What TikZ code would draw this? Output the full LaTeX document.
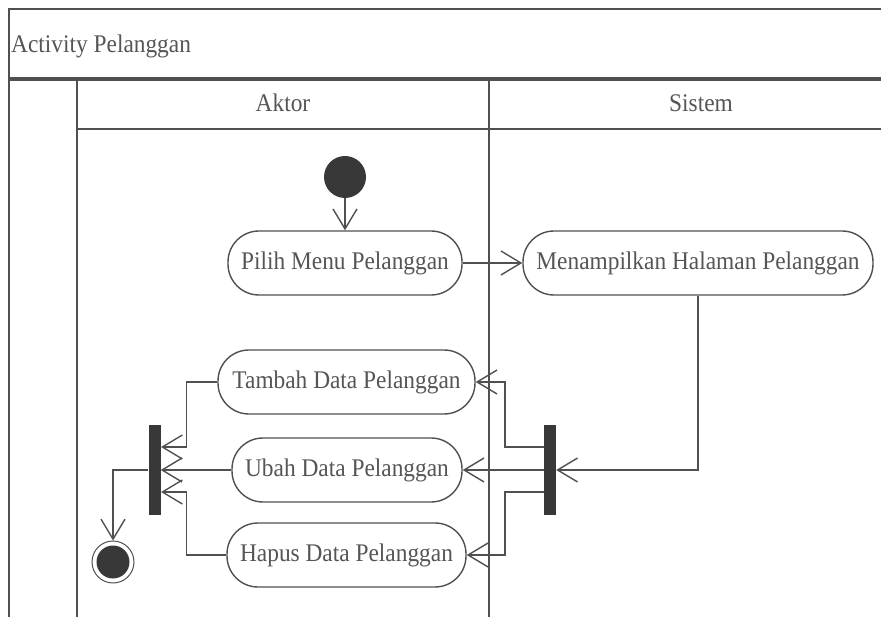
\documentclass[tikz,border=0pt]{standalone}
\usepackage{fontspec}
\setmainfont{Liberation Serif}[FakeStretch=0.92]
\usetikzlibrary{arrows.meta}
\definecolor{ln}{HTML}{505050}
\definecolor{tx}{HTML}{555555}
\definecolor{dk}{HTML}{383838}
\tikzset{
  act/.style={draw=ln, line width=1.4pt, rounded corners=31pt, minimum height=64pt,
    inner sep=0pt, text=tx, font=\fontsize{25.4}{30}\selectfont},
  bar/.style={fill=dk, draw=none, minimum width=12pt, minimum height=90pt, inner sep=0pt},
  conn/.style={draw=ln, line width=1.4pt},
  arr/.style={conn, -{Straight Barb[length=20pt,width=24pt,line width=1.4pt]}},
  frm/.style={draw=ln, line width=1.5pt},
  lbl/.style={text=tx, font=\fontsize{25.4}{30}\selectfont, inner sep=0pt}
}
\begin{document}
\begin{tikzpicture}[x=1pt,y=-1pt]
\useasboundingbox (0,0) rectangle (881,617);
% frame
\coordinate (ftl) at (9,9);
\coordinate (ftr) at (885,9);
\coordinate (fbl) at (9,620);
\coordinate (htl) at (9,79);
\coordinate (htr) at (885,79);
\coordinate (lanel) at (77,79);
\coordinate (lanelb) at (77,620);
\coordinate (div) at (489,79);
\coordinate (divb) at (489,620);
\coordinate (hdl) at (77,129);
\coordinate (hdr) at (885,129);
\draw[frm] (ftr) -- (ftl) -- (fbl);
\draw[draw=ln, line width=3.5pt] (htl) -- (htr);
\draw[frm] (lanel) -- (lanelb);
\draw[frm] (div) -- (divb);
\draw[draw=ln, line width=2pt] (hdl) -- (hdr);
\node[lbl, anchor=base west] (title) at (11,53) {Activity Pelanggan};
\node[lbl, anchor=base] (aktor) at (283,112) {Aktor};
\node[lbl, anchor=base] (sistem) at (701,112) {Sistem};
% nodes
\node[circle, fill=dk, minimum size=42pt, inner sep=0pt] (start) at (345,177) {};
\node[act, minimum width=234pt] (pilih) at (345,263) {Pilih Menu Pelanggan};
\node[act, minimum width=350pt] (tampil) at (698,263) {Menampilkan Halaman Pelanggan};
\node[act, minimum width=257pt] (tambah) at (346.5,382) {Tambah Data Pelanggan};
\node[act, minimum width=230pt] (ubah) at (347,470) {Ubah Data Pelanggan};
\node[act, minimum width=239pt] (hapus) at (346.5,555) {Hapus Data Pelanggan};
\node[bar] (rbar) at (550,470) {};
\node[bar] (lbar) at (154.5,470) {};
\node[circle, draw=ln, line width=1pt, minimum size=42pt, inner sep=0pt] (final) at (113,562) {};
\node[circle, fill=dk, minimum size=33pt, inner sep=0pt] (finalin) at (113,562) {};
\coordinate (r1) at (544,447);
\coordinate (r3) at (544,492);
\coordinate (l1) at (161,447);
\coordinate (l3) at (161,492);
% connectors
\draw[arr] (start) -- (pilih.north);
\draw[arr] (pilih.east) -- (tampil.west);
\draw[arr] (tampil.south) |- (rbar.east);
\draw[arr] (r1) -- ++(-39,0) |- (tambah.east);
\draw[arr] (rbar.west) -- (ubah.east);
\draw[arr] (r3) -- ++(-39,0) |- (hapus.east);
\draw[arr] (tambah.west) -- ++(-31,0) |- (l1);
\draw[arr] (ubah.west) -- (lbar.east);
\draw[arr] (hapus.west) -- ++(-40,0) |- (l3);
\draw[arr] (lbar.west) -| (final.north);
\end{tikzpicture}
\end{document}
